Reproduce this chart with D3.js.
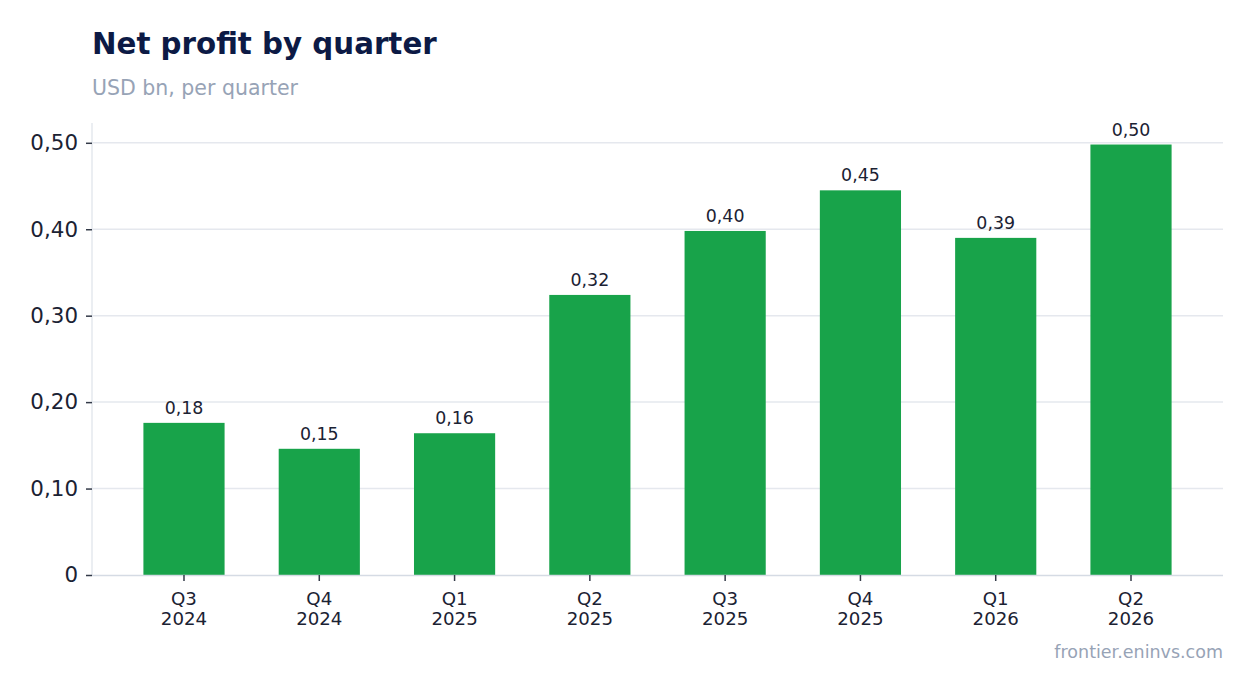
<!DOCTYPE html>
<html>
<head>
<meta charset="utf-8">
<script src="https://cdn.jsdelivr.net/npm/d3@7"></script>
<style>
  body { margin: 0; background: #fff; }
  svg { font-family: "DejaVu Sans", sans-serif; }
</style>
</head>
<body>
<svg id="chart" width="1254" height="693"></svg>
<script>
// Chart data
const quarters = ['Q3 2024', 'Q4 2024', 'Q1 2025', 'Q2 2025', 'Q3 2025', 'Q4 2025', 'Q1 2026', 'Q2 2026'];
const profits = [0.176, 0.146, 0.164, 0.324, 0.398, 0.445, 0.390, 0.498];
const yTicks = [0, 0.1, 0.2, 0.3, 0.4, 0.5];

const svg = d3.select('#chart');
const margin = { top: 123, right: 31, bottom: 118, left: 92 };
const width = 1254 - margin.left - margin.right;
const height = 693 - margin.top - margin.bottom;

const fmt = v => v === 0 ? '0' : d3.format('.2f')(v).replace('.', ',');

// Title and subtitle
svg.append('text')
    .attr('x', margin.left)
    .attr('y', 54)
    .attr('fill', '#0c1a45')
    .attr('font-size', 29.3)
    .attr('font-weight', 'bold')
    .text('Net profit by quarter');

svg.append('text')
    .attr('x', margin.left)
    .attr('y', 95)
    .attr('fill', '#97a3b6')
    .attr('font-size', 20.5)
    .text('USD bn, per quarter');

const g = svg.append('g')
    .attr('transform', `translate(${margin.left},${margin.top})`);

const x = d3.scaleBand()
    .domain(quarters)
    .range([0, width])
    .paddingInner(0.4)
    .paddingOuter(0.38);

const y = d3.scaleLinear()
    .domain([0, d3.max(profits) * 1.05])
    .range([height, 0]);

// Grid lines
g.append('g')
    .selectAll('line')
    .data(yTicks.filter(t => t > 0))
    .join('line')
    .attr('x1', 0)
    .attr('x2', width)
    .attr('y1', d => y(d))
    .attr('y2', d => y(d))
    .attr('stroke', '#e5e8ee')
    .attr('stroke-width', 1.5);

// Left axis line
g.append('line')
    .attr('x1', 0).attr('x2', 0)
    .attr('y1', 0).attr('y2', height)
    .attr('stroke', '#e5e8ee')
    .attr('stroke-width', 1.5);

// Bars
g.selectAll('rect.bar')
    .data(profits)
    .join('rect')
    .attr('class', 'bar')
    .attr('x', (d, i) => x(quarters[i]))
    .attr('width', x.bandwidth())
    .attr('y', d => y(d))
    .attr('height', d => height - y(d))
    .attr('fill', '#18a34a');

// Value labels
g.selectAll('text.val')
    .data(profits)
    .join('text')
    .attr('class', 'val')
    .attr('x', (d, i) => x(quarters[i]) + x.bandwidth() / 2)
    .attr('y', d => y(d) - 9)
    .attr('text-anchor', 'middle')
    .attr('font-size', 17.4)
    .attr('fill', '#1b2233')
    .text(d => fmt(d));

// Y axis
const yAxis = g.append('g')
    .call(d3.axisLeft(y).tickValues(yTicks).tickFormat(fmt).tickSize(6).tickPadding(8));
yAxis.select('.domain').remove();
yAxis.selectAll('.tick line').attr('stroke', '#333a48').attr('stroke-width', 1.5);
yAxis.selectAll('.tick text')
    .attr('font-size', 21.4)
    .attr('font-family', '"DejaVu Sans", sans-serif')
    .attr('fill', '#1b2233');

// X axis
const xAxis = g.append('g')
    .attr('transform', `translate(0,${height})`)
    .call(d3.axisBottom(x).tickSize(6).tickPadding(6).tickFormat(''));
xAxis.select('.domain')
    .attr('stroke', '#d5dbe4')
    .attr('stroke-width', 1.5)
    .attr('d', `M0,0.5H${width}`);
xAxis.selectAll('.tick line').attr('stroke', '#333a48').attr('stroke-width', 1.5);
xAxis.selectAll('.tick text').remove();

const xLabels = xAxis.selectAll('.tick')
    .append('text')
    .attr('text-anchor', 'middle')
    .attr('font-size', 18.2)
    .attr('font-family', '"DejaVu Sans", sans-serif')
    .attr('fill', '#1b2233');
xLabels.append('tspan').attr('x', 0).attr('y', 30).text(d => d.split(' ')[0]);
xLabels.append('tspan').attr('x', 0).attr('y', 50).text(d => d.split(' ')[1]);

// Source note
svg.append('text')
    .attr('x', margin.left + width)
    .attr('y', 658)
    .attr('text-anchor', 'end')
    .attr('font-size', 17.5)
    .attr('fill', '#97a3b6')
    .text('frontier.eninvs.com');
</script>
</body>
</html>
